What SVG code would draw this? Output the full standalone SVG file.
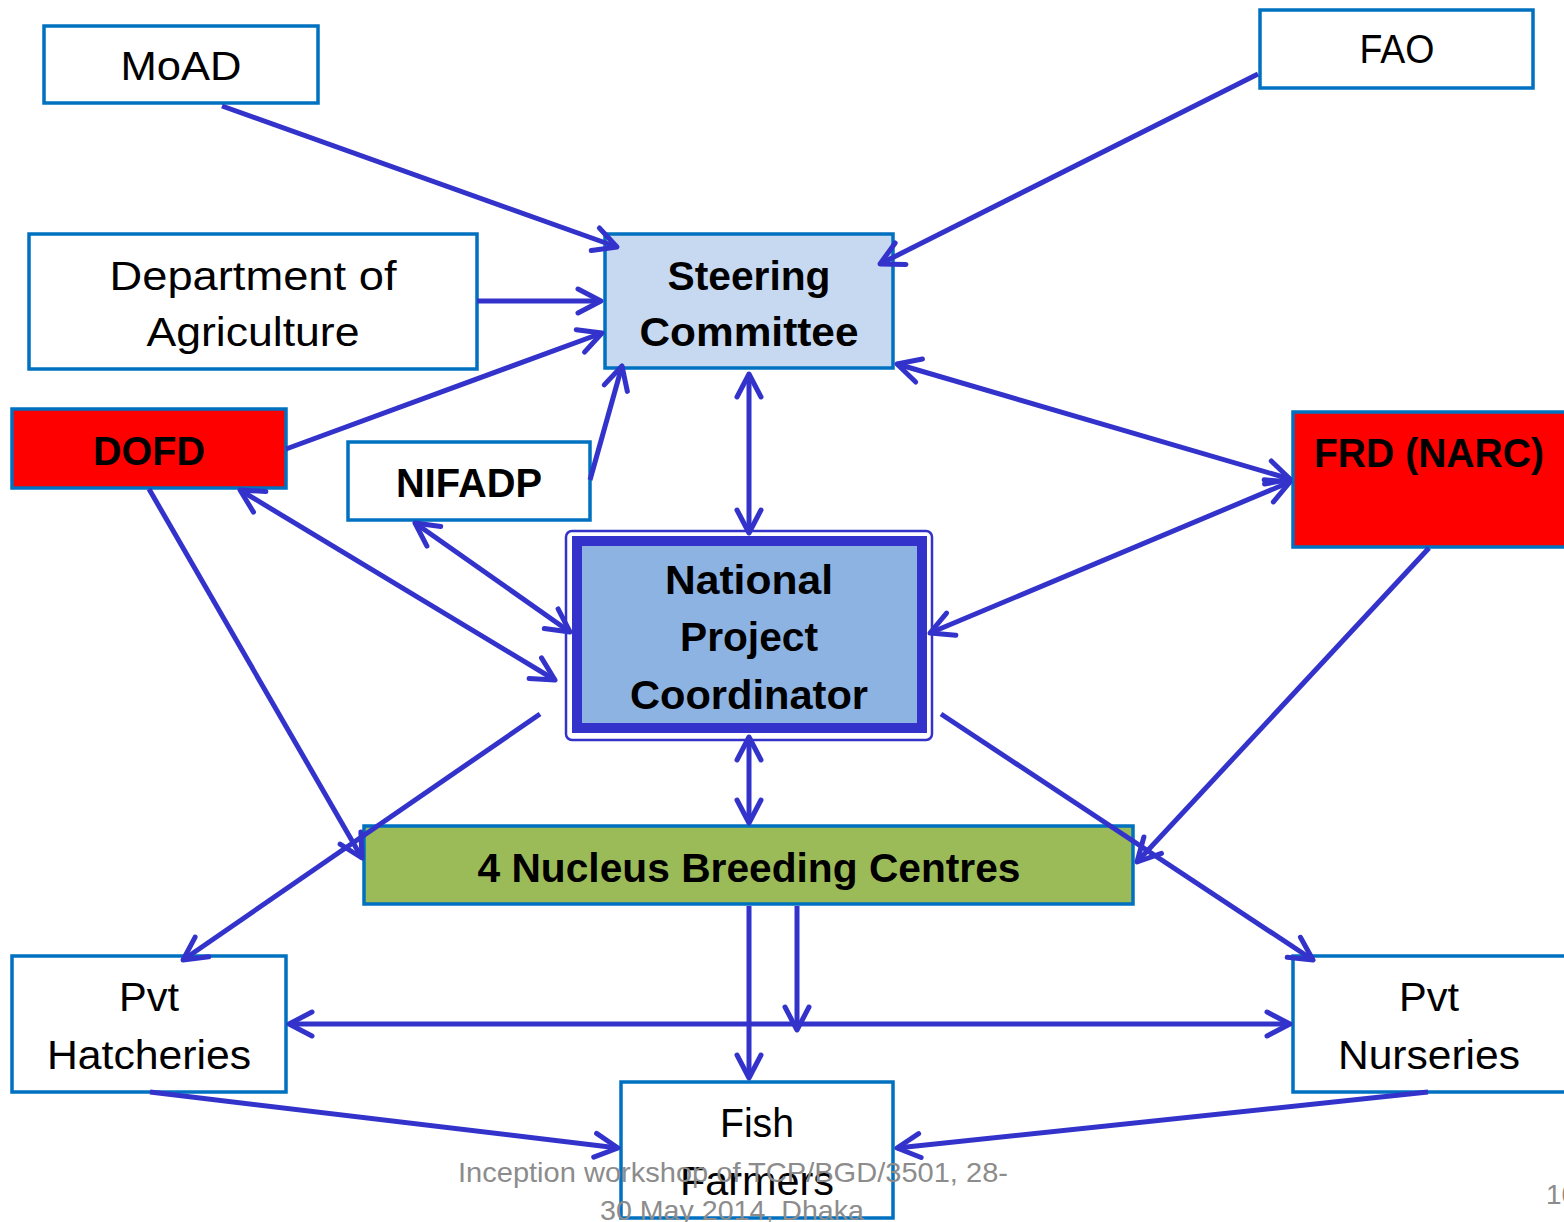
<svg xmlns="http://www.w3.org/2000/svg" width="1564" height="1222" viewBox="0 0 1564 1222">
<style>
.box{stroke:#0070C0;stroke-width:3.5}
.w{fill:#FFFFFF}
.red{fill:#FF0000}
.t{font-family:"Liberation Sans",Arial,sans-serif;font-size:40px;fill:#000000;text-anchor:middle}
.b{font-weight:bold}
.c{fill:none;stroke:#3333CC;stroke-width:5}
.foot{font-family:"Liberation Sans",Arial,sans-serif;font-size:28px;fill:#8C8C8C;text-anchor:middle}
</style>
<defs>
<marker id="ah" viewBox="0 0 32 32" markerWidth="32" markerHeight="32" refX="29" refY="16" orient="auto-start-reverse" markerUnits="userSpaceOnUse" overflow="visible">
<path d="M6,4 L29,16 L6,28" fill="none" stroke="#3333CC" stroke-width="5" stroke-linecap="round" stroke-linejoin="round"/>
</marker>
</defs>
<rect width="1564" height="1222" fill="#FFFFFF"/>

<g id="moad"><rect class="box w" x="44" y="26" width="274" height="77"/><text class="t" x="181" y="80" textLength="121" lengthAdjust="spacingAndGlyphs">MoAD</text></g>
<g id="fao"><rect class="box w" x="1260" y="10" width="273" height="78"/><text class="t" x="1397" y="63" textLength="75" lengthAdjust="spacingAndGlyphs">FAO</text></g>
<g id="doa"><rect class="box w" x="29" y="234" width="448" height="135"/><text class="t" x="253" y="290" textLength="287" lengthAdjust="spacingAndGlyphs">Department of</text><text class="t" x="253" y="346" textLength="213" lengthAdjust="spacingAndGlyphs">Agriculture</text></g>
<g id="steering"><rect class="box" fill="#C6D9F1" x="605" y="234" width="288" height="134"/><text class="t b" x="749" y="290" textLength="163" lengthAdjust="spacingAndGlyphs">Steering</text><text class="t b" x="749" y="346" textLength="219" lengthAdjust="spacingAndGlyphs">Committee</text></g>
<g id="dofd"><rect class="box red" x="12" y="409" width="274" height="79"/><text class="t b" x="149" y="465" textLength="112" lengthAdjust="spacingAndGlyphs">DOFD</text></g>
<g id="nifadp"><rect class="box w" x="348" y="442" width="242" height="78"/><text class="t b" x="469" y="497" textLength="146" lengthAdjust="spacingAndGlyphs">NIFADP</text></g>
<g id="frd"><rect class="box red" x="1293" y="412" width="280" height="135"/><text class="t b" x="1429" y="467" textLength="230" lengthAdjust="spacingAndGlyphs">FRD (NARC)</text></g>
<g id="npc"><rect x="566" y="531" width="366" height="209" rx="6" fill="#FFFFFF" stroke="#3333CC" stroke-width="2.5"/><rect x="577" y="541" width="345" height="187" fill="#8DB3E2" stroke="#3333CC" stroke-width="10"/><text class="t b" x="749" y="594" textLength="168" lengthAdjust="spacingAndGlyphs">National</text><text class="t b" x="749" y="651" textLength="138" lengthAdjust="spacingAndGlyphs">Project</text><text class="t b" x="749" y="709" textLength="238" lengthAdjust="spacingAndGlyphs">Coordinator</text></g>
<g id="nbc"><rect class="box" fill="#9BBB59" x="364" y="826" width="769" height="78"/><text class="t b" x="749" y="882" textLength="543" lengthAdjust="spacingAndGlyphs">4 Nucleus Breeding Centres</text></g>
<g id="hatch"><rect class="box w" x="12" y="956" width="274" height="136"/><text class="t" x="149" y="1011" textLength="60" lengthAdjust="spacingAndGlyphs">Pvt</text><text class="t" x="149" y="1069" textLength="204" lengthAdjust="spacingAndGlyphs">Hatcheries</text></g>
<g id="nurs"><rect class="box w" x="1293" y="956" width="280" height="136"/><text class="t" x="1429" y="1011" textLength="60" lengthAdjust="spacingAndGlyphs">Pvt</text><text class="t" x="1429" y="1069" textLength="182" lengthAdjust="spacingAndGlyphs">Nurseries</text></g>
<g id="fish"><rect class="box w" x="621" y="1082" width="272" height="136"/><text class="t" x="757" y="1137" textLength="74" lengthAdjust="spacingAndGlyphs">Fish</text><text class="t" x="757" y="1195" textLength="154" lengthAdjust="spacingAndGlyphs">Farmers</text></g>

<g id="connectors">
<line class="c" x1="222" y1="106" x2="617" y2="247" marker-end="url(#ah)"/>
<line class="c" x1="1258" y1="74" x2="880" y2="264" marker-end="url(#ah)"/>
<line class="c" x1="477" y1="301" x2="601" y2="301" marker-end="url(#ah)"/>
<line class="c" x1="286" y1="449" x2="602" y2="333" marker-end="url(#ah)"/>
<line class="c" x1="590" y1="480" x2="622" y2="366" marker-end="url(#ah)"/>
<line class="c" x1="749" y1="374" x2="749" y2="533" marker-start="url(#ah)" marker-end="url(#ah)"/>
<line class="c" x1="897" y1="364" x2="1290" y2="479" marker-start="url(#ah)" marker-end="url(#ah)"/>
<line class="c" x1="930" y1="633" x2="1290" y2="482" marker-start="url(#ah)" marker-end="url(#ah)"/>
<line class="c" x1="240" y1="490" x2="555" y2="680" marker-start="url(#ah)" marker-end="url(#ah)"/>
<line class="c" x1="415" y1="523" x2="570" y2="632" marker-start="url(#ah)" marker-end="url(#ah)"/>
<line class="c" x1="749" y1="737" x2="749" y2="823" marker-start="url(#ah)" marker-end="url(#ah)"/>
<line class="c" x1="149" y1="489" x2="362" y2="858" marker-end="url(#ah)"/>
<line class="c" x1="540" y1="714" x2="183" y2="960" marker-end="url(#ah)"/>
<line class="c" x1="941" y1="714" x2="1313" y2="960" marker-end="url(#ah)"/>
<line class="c" x1="1429" y1="548" x2="1137" y2="862" marker-end="url(#ah)"/>
<line class="c" x1="749" y1="906" x2="749" y2="1078" marker-end="url(#ah)"/>
<line class="c" x1="797" y1="906" x2="797" y2="1030" marker-end="url(#ah)"/>
<line class="c" x1="289" y1="1024" x2="1290" y2="1024" marker-start="url(#ah)" marker-end="url(#ah)"/>
<line class="c" x1="150" y1="1092" x2="618" y2="1148" marker-end="url(#ah)"/>
<line class="c" x1="1428" y1="1092" x2="897" y2="1148" marker-end="url(#ah)"/>
</g>

<g id="footer">
<text class="foot" x="733" y="1182" textLength="550" lengthAdjust="spacingAndGlyphs">Inception workshop of TCP/BGD/3501, 28-</text>
<text class="foot" x="732" y="1220" textLength="264" lengthAdjust="spacingAndGlyphs">30 May 2014, Dhaka</text>
<text class="foot" x="1546" y="1204" style="text-anchor:start">10</text>
</g>
</svg>
